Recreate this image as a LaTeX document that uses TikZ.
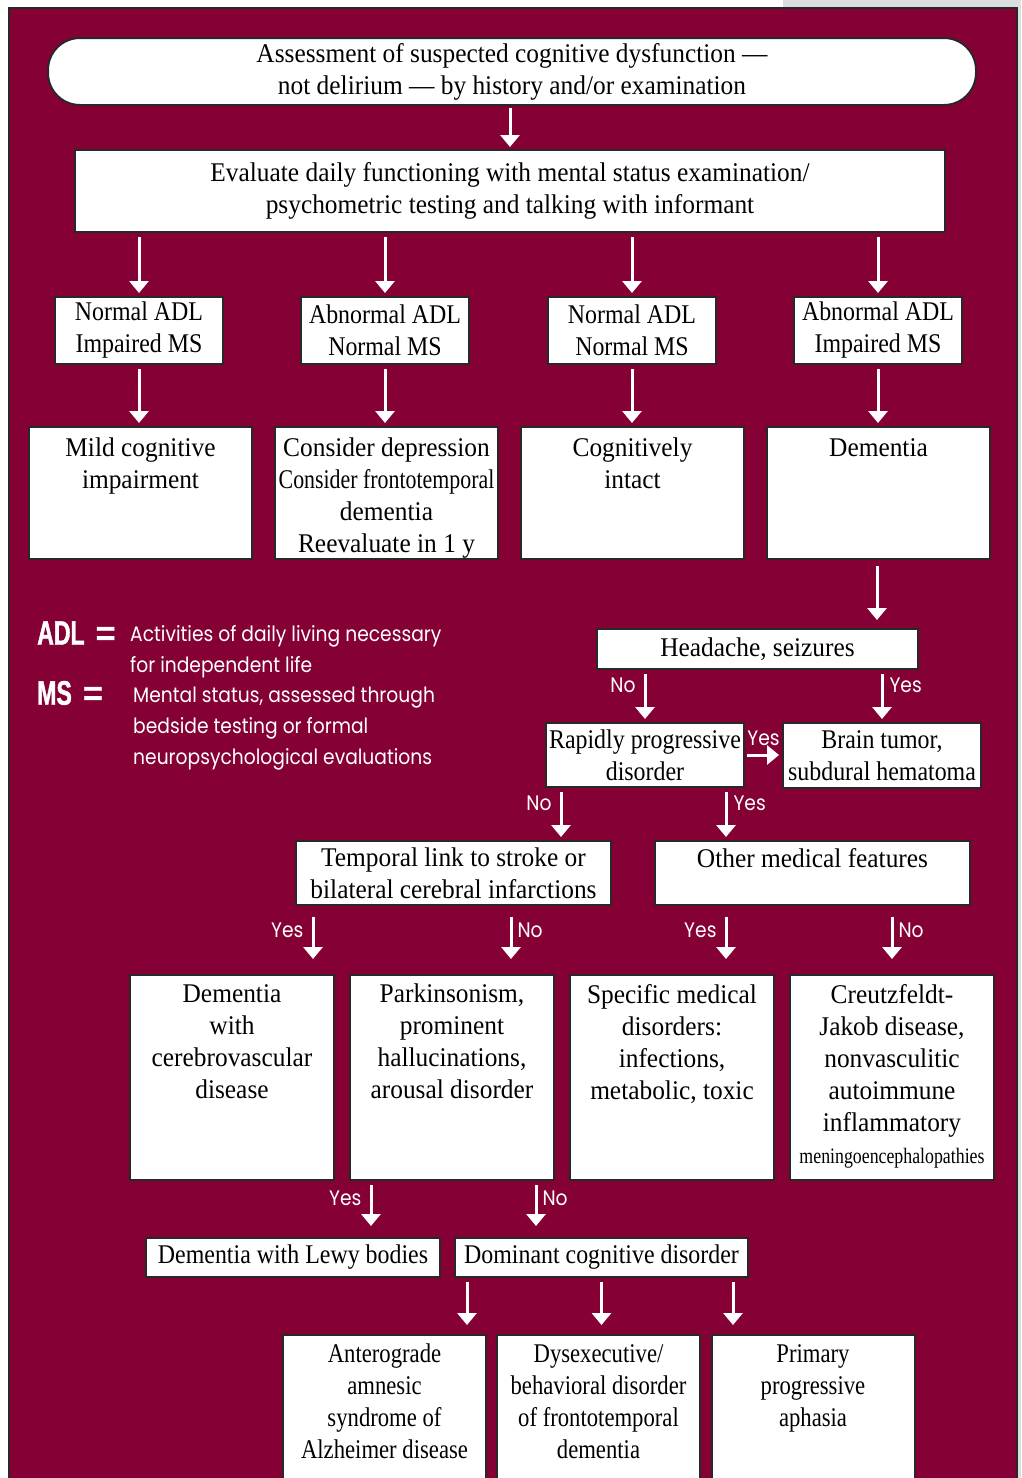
\documentclass[tikz,border=0pt]{standalone}
\usepackage{fontspec}
\setmainfont{Liberation Serif}[FakeStretch=0.94]
\newfontfamily\tightfont{Liberation Serif}[FakeStretch=0.885]
\newfontfamily\condfont{Liberation Serif}[FakeStretch=0.81]
\newfontfamily\basefont{Liberation Serif}[FakeStretch=0.84]
\newfontfamily\labelfont{Poppins}[FakeStretch=0.89]
\newfontfamily\abbrfont{Liberation Sans}[FakeStretch=0.68, FakeBold=1.2]
\newfontfamily\eqfont{Liberation Sans}[FakeBold=1.2]
\usetikzlibrary{positioning,arrows.meta}
\definecolor{chartmaroon}{RGB}{133,0,52}
\definecolor{boxline}{RGB}{40,40,40}
\definecolor{pagegray}{RGB}{220,221,223}
\tikzset{
    frame/.style={draw=boxline, line width=2pt, fill=white, inner sep=0pt,
        align=center, font=\fontsize{27}{32}\selectfont},
    tight/.style={font=\tightfont\fontsize{27}{32}\selectfont},
    small/.style={frame, tight, minimum width=168pt, minimum height=67pt},
    tall/.style={frame, minimum width=223pt, minimum height=132pt},
    cell/.style={frame, minimum width=204pt, minimum height=205pt},
    base/.style={frame, minimum width=203pt, minimum height=170pt},
    boxtext/.style={align=center, inner sep=0pt, font=\fontsize{27}{32}\selectfont},
    flow/.style={draw=white, line width=3pt, shorten <=4pt, shorten >=3pt,
        -{Triangle[width=19pt,length=12pt]}},
    yn/.style={text=white, inner sep=0pt, font=\labelfont\fontsize{21}{21}\selectfont},
    legend/.style={text=white, inner sep=0pt, align=left,
        font=\labelfont\fontsize{21}{31}\selectfont},
    abbr/.style={text=white, inner sep=0pt, font=\abbrfont\bfseries\fontsize{34}{34}\selectfont}
}
\begin{document}
\begin{tikzpicture}[x=1pt, y=-1pt]
    \useasboundingbox (0,0) rectangle (1021,1478);
    \clip (0,0) rectangle (1021,1478);
    % page background
    \fill[white] (0,0) rectangle (1021,1478);
    \fill[pagegray] (783,0) rectangle (1021,1478);
    \filldraw[fill=chartmaroon, draw=boxline, line width=1.5pt] (9,8) rectangle (1017,1490);

    % top of the chart
    \node[frame, rounded corners=32pt, minimum width=928pt, minimum height=67pt] (assess) at (512,71.5)
        {Assessment of suspected cognitive dysfunction ---\\not delirium --- by history and/or examination};
    \node[frame, minimum width=870pt, minimum height=82pt] (evaluate) at (510,191)
        {Evaluate daily functioning with mental status examination/\\psychometric testing and talking with informant};

    % ADL / MS combinations
    \node[small] (nadlims) at (139,330.5) {Normal ADL\\Impaired MS};
    \node[small] (aadlnms) at (385,330.5) {Abnormal ADL\\Normal MS};
    \node[small] (nadlnms) at (632,330.5) {Normal ADL\\Normal MS};
    \node[small] (aadlims) at (878,330.5) {Abnormal ADL\\Impaired MS};

    \node[tall] (mci) at (140.5,493) {};
    \node[boxtext, below=12pt of mci.north] (mcitext) {Mild cognitive\\impairment};
    \node[tall] (depr) at (386.5,493) {};
    \node[boxtext, below=12pt of depr.north] (deprtext)
        {Consider depression\\{\condfont Consider frontotemporal}\\dementia\\Reevaluate in 1 y};
    \node[tall] (intact) at (632.5,493) {};
    \node[boxtext, below=12pt of intact.north] (intacttext) {Cognitively\\intact};
    \node[tall] (dementia) at (878.5,493) {};
    \node[boxtext, below=12pt of dementia.north] (dementiatext) {Dementia};

    % dementia work-up
    \node[frame, minimum width=321pt, minimum height=40pt] (headache) at (757.5,649) {Headache, seizures};
    \node[frame, tight, minimum width=198pt, minimum height=64pt] (rapid) at (645,755) {Rapidly progressive\\disorder};
    \node[frame, tight, minimum width=198pt, minimum height=65pt] (tumor) at (882,755.5) {Brain tumor,\\subdural hematoma};
    \node[frame, minimum width=315pt, minimum height=64pt] (stroke) at (453.5,873)
        {Temporal link to stroke or\\bilateral cerebral infarctions};
    \node[frame, minimum width=315pt, minimum height=64pt] (medical) at (812.5,873) {};
    \node[boxtext, below=8pt of medical.north] (medicaltext) {Other medical features};

    \node[cell] (cvd) at (232,1077.5) {};
    \node[boxtext, below=10pt of cvd.north] (cvdtext) {Dementia\\with\\cerebrovascular\\disease};
    \node[cell] (parkin) at (452,1077.5) {};
    \node[boxtext, below=10pt of parkin.north] (parkintext)
        {Parkinsonism,\\prominent\\hallucinations,\\arousal disorder};
    \node[cell] (specific) at (672,1077.5) {};
    \node[boxtext, below=10pt of specific.north] (specifictext)
        {Specific medical\\disorders:\\infections,\\metabolic, toxic};
    \node[cell] (cjd) at (892,1077.5) {};
    \node[boxtext, below=10pt of cjd.north] (cjdtext)
        {Creutzfeldt-\\Jakob disease,\\nonvasculitic\\autoimmune\\inflammatory\\{\condfont\fontsize{22}{32}\selectfont meningoencephalopathies}};

    \node[frame, tight, minimum width=294pt, minimum height=39pt] (lewy) at (293,1257.5) {Dementia with Lewy bodies};
    \node[frame, tight, minimum width=293pt, minimum height=39pt] (dominant) at (601.5,1257.5) {Dominant cognitive disorder};

    \node[base] (alzheimer) at (384.5,1420) {};
    \node[boxtext, font=\basefont\fontsize{27}{32}\selectfont, below=10pt of alzheimer.north] (alzheimertext)
        {Anterograde\\amnesic\\syndrome of\\Alzheimer disease};
    \node[base] (dysexec) at (598.5,1420) {};
    \node[boxtext, font=\basefont\fontsize{27}{32}\selectfont, below=10pt of dysexec.north] (dysexectext)
        {Dysexecutive/\\behavioral disorder\\of frontotemporal\\dementia};
    \node[base] (aphasia) at (813,1420) {};
    \node[boxtext, font=\basefont\fontsize{27}{32}\selectfont, below=10pt of aphasia.north] (aphasiatext)
        {Primary\\progressive\\aphasia};

    % legend
    \node[abbr, anchor=west] (adl) at (37,633) {ADL\hspace{11pt}{\eqfont=}};
    \node[legend, anchor=north west] (adldef) at (130,625)
        {Activities of daily living necessary\\for independent life};
    \node[abbr, anchor=west] (ms) at (37,693) {MS\hspace{11pt}{\eqfont=}};
    \node[legend, anchor=north west] (msdef) at (133,687)
        {Mental status, assessed through\\bedside testing or formal\\neuropsychological evaluations};

    % connectors
    \draw[flow, shorten <=2pt, shorten >=2pt] (assess.south -| evaluate.north) -- (evaluate.north);
    \draw[flow] (evaluate.south -| nadlims.north) -- (nadlims.north);
    \draw[flow] (evaluate.south -| aadlnms.north) -- (aadlnms.north);
    \draw[flow] (evaluate.south -| nadlnms.north) -- (nadlnms.north);
    \draw[flow] (evaluate.south -| aadlims.north) -- (aadlims.north);
    \draw[flow] (nadlims.south) -- (nadlims.south |- mci.north);
    \draw[flow] (aadlnms.south) -- (aadlnms.south |- depr.north);
    \draw[flow] (nadlnms.south) -- (nadlnms.south |- intact.north);
    \draw[flow] (aadlims.south) -- (aadlims.south |- dementia.north);
    \draw[flow, shorten <=6pt, shorten >=8pt] ([xshift=-1.5pt]dementia.south) -- ([xshift=-1.5pt]dementia.south |- headache.north);

    \draw[flow] (headache.south -| rapid.north) -- node[yn, pos=0.3, left=8pt] {No} (rapid.north);
    \draw[flow] (headache.south -| tumor.north) -- node[yn, pos=0.3, right=6pt] {Yes} (tumor.north);
    \draw[flow, shorten <=2pt, shorten >=3pt] (rapid.east) -- node[yn, above=8pt] {Yes} (tumor.west |- rapid.east);
    \draw[flow] ([xshift=-84pt]rapid.south) -- node[yn, pos=0.3, left=8pt] {No} ([xshift=-84pt]rapid.south |- stroke.north);
    \draw[flow] ([xshift=81pt]rapid.south) -- node[yn, pos=0.3, right=6pt] {Yes} ([xshift=81pt]rapid.south |- medical.north);

    \draw[flow, shorten <=11pt, shorten >=15pt] ([xshift=-140.5pt]stroke.south) -- node[yn, pos=0.35, left=8pt] {Yes} ([xshift=-140.5pt]stroke.south |- cvd.north);
    \draw[flow, shorten <=11pt, shorten >=15pt] ([xshift=57.5pt]stroke.south) -- node[yn, pos=0.35, right=5pt] {No} ([xshift=57.5pt]stroke.south |- parkin.north);
    \draw[flow, shorten <=11pt, shorten >=15pt] ([xshift=-86.5pt]medical.south) -- node[yn, pos=0.35, left=8pt] {Yes} ([xshift=-86.5pt]medical.south |- specific.north);
    \draw[flow, shorten <=11pt, shorten >=15pt] (medical.south -| cjd.north) -- node[yn, pos=0.35, right=5pt] {No} (cjd.north);

    \draw[flow, shorten >=11pt] ([xshift=-81pt]parkin.south) -- node[yn, pos=0.3, left=8pt] {Yes} ([xshift=-81pt]parkin.south |- lewy.north);
    \draw[flow, shorten >=11pt] ([xshift=84pt]parkin.south) -- node[yn, pos=0.3, right=5pt] {No} ([xshift=84pt]parkin.south |- dominant.north);

    \draw[flow, shorten >=9pt] ([xshift=-134.5pt]dominant.south) -- ([xshift=-134.5pt]dominant.south |- alzheimer.north);
    \draw[flow, shorten >=9pt] (dominant.south) -- (dominant.south |- dysexec.north);
    \draw[flow, shorten >=9pt] ([xshift=131.5pt]dominant.south) -- ([xshift=131.5pt]dominant.south |- aphasia.north);
\end{tikzpicture}
\end{document}
